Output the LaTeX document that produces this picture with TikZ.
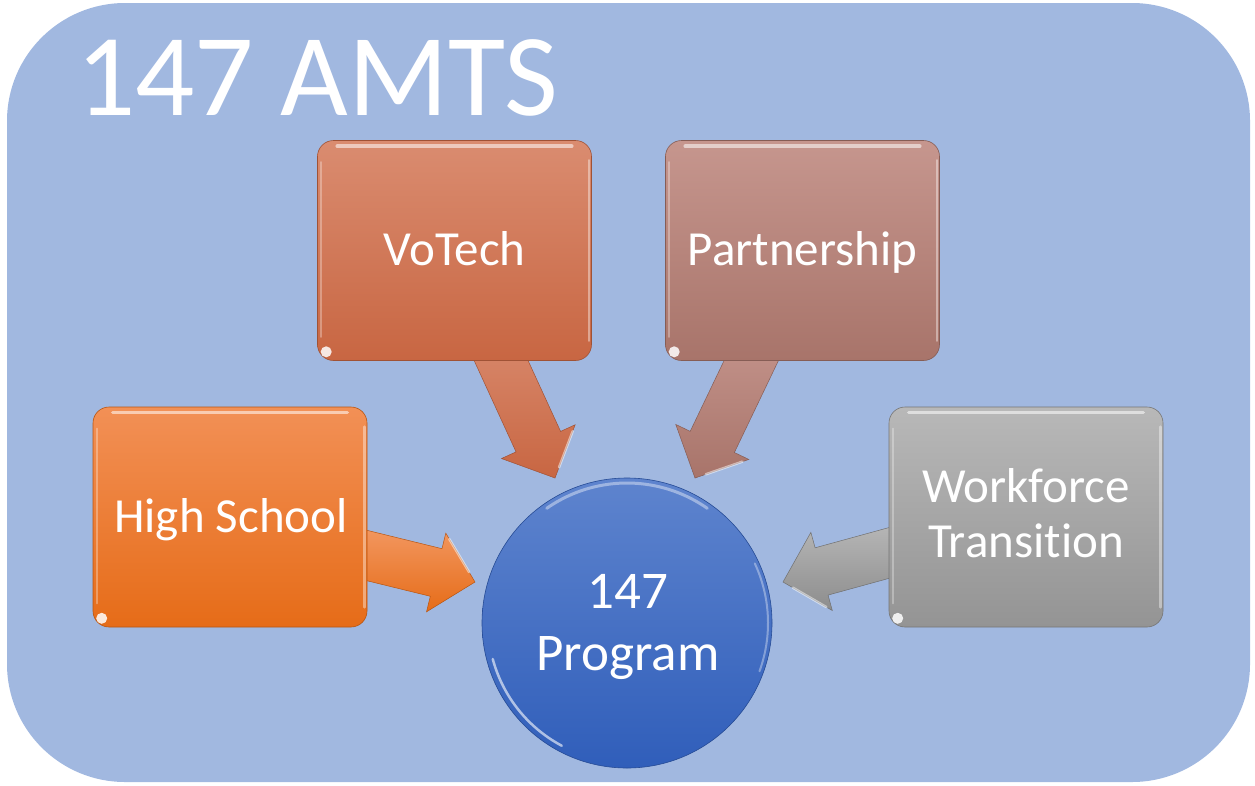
\documentclass[tikz,border=0pt]{standalone}
\usepackage{fontspec}
\setmainfont{Carlito}[Ligatures=NoCommon]
\usetikzlibrary{calc}
\definecolor{bgblue}{RGB}{161,184,224}
\definecolor{hsTop}{RGB}{242,144,86}
\definecolor{hsBot}{RGB}{230,108,24}
\definecolor{vtTop}{RGB}{218,140,112}
\definecolor{vtBot}{RGB}{200,102,66}
\definecolor{ptTop}{RGB}{198,150,142}
\definecolor{ptBot}{RGB}{168,116,106}
\definecolor{wfTop}{RGB}{184,184,184}
\definecolor{wfBot}{RGB}{148,148,148}
\definecolor{prTop}{RGB}{94,132,206}
\definecolor{prBot}{RGB}{48,94,186}
\newcommand{\blockarrow}[4]{%
  \path ($(#2)!40pt!(#1)$) coordinate (H)
        ($(#1)!24.5pt!90:(#2)$) coordinate (s1)
        ($(#1)!24.5pt!-90:(#2)$) coordinate (s2)
        ($(H)!24.5pt!90:(#2)$) coordinate (h1)
        ($(H)!24.5pt!-90:(#2)$) coordinate (h2)
        ($(H)!40.5pt!90:(#2)$) coordinate (b1)
        ($(H)!40.5pt!-90:(#2)$) coordinate (b2);
  \shade[top color=#3, bottom color=#4, draw=#4!80!black, line width=0.5pt]
    (s1) -- (h1) -- (b1) -- (#2) -- (b2) -- (h2) -- (s2) -- cycle;
  \draw[white, opacity=.5, line width=2.5pt, line cap=round]
    ($(b1)!0.12!(#2)$) -- ($(b1)!0.8!(#2)$);
}
\newcommand{\bevel}[1]{%
  \draw[white, opacity=.55, line width=3.5pt, line cap=round]
    ($(#1.north west)+(20,6)$) -- ($(#1.north east)+(-20,6)$);
  \draw[white, opacity=.4, line width=2.5pt, line cap=round]
    ($(#1.north east)+(-3,20)$) -- ($(#1.south east)+(-3,-20)$);
  \draw[white, opacity=.3, line width=2pt, line cap=round]
    ($(#1.north west)+(4,22)$) -- ($(#1.south west)+(4,-24)$);
  \fill[white, opacity=.85] ($(#1.south west)+(9,-9)$) circle [radius=5.5pt];
}
\tikzset{
  x=1pt, y=-1pt,
  box/.style={rounded corners=16pt, minimum width=274pt, minimum height=220pt,
    inner sep=0pt, line width=0.6pt, shade},
  lbl/.style={text=white, font=\fontsize{49}{55}\selectfont, inner sep=0pt, anchor=base},
  biglbl/.style={text=white, font=\fontsize{53}{62}\selectfont, inner sep=0pt, anchor=base}
}
\begin{document}
\begin{tikzpicture}
\useasboundingbox (0,0) rectangle (1255,785);
% background panel
\fill[bgblue, rounded corners=118pt] (7,3) rectangle (1250,782);
\node[text=white, font=\fontsize{117}{120}\selectfont, inner sep=0pt, anchor=base west]
  (title) at (76,115) {147 AMTS};

% arrow anchors
\coordinate (hsS) at (320,544);  \coordinate (hsT) at (475,582);
\coordinate (vtS) at (488,332);  \coordinate (vtT) at (555,478);
\coordinate (ptS) at (764,334);  \coordinate (ptT) at (695,478);
\coordinate (wfS) at (918,545);  \coordinate (wfT) at (783,582);

\blockarrow{hsS}{hsT}{hsTop!90!white}{hsBot}
\blockarrow{vtS}{vtT}{vtTop}{vtBot}
\blockarrow{ptS}{ptT}{ptTop}{ptBot}
\blockarrow{wfS}{wfT}{wfTop}{wfBot!95!black}

% boxes
\node[box, top color=vtTop, bottom color=vtBot, draw=vtBot!80!black] (votech) at (454.5,250.5) {};
\node[box, top color=ptTop, bottom color=ptBot, draw=ptBot!80!black] (partner) at (802.5,250.5) {};
\node[box, top color=hsTop, bottom color=hsBot, draw=hsBot!80!black] (hs) at (230,517) {};
\node[box, top color=wfTop, bottom color=wfBot, draw=wfBot!80!black] (wf) at (1026,517) {};
\bevel{votech}\bevel{partner}\bevel{hs}\bevel{wf}

\node[lbl] (votechL) at (454.5,265.5) {VoTech};
\node[lbl] (partnerL) at (802.5,265.5) {Partnership};
\node[lbl] (hsL) at (231,532) {High School};
\node[lbl] (wfL1) at (1026,502) {Workforce};
\node[lbl] (wfL2) at (1026,557) {Transition};

% central circle
\node[circle, minimum size=290pt, inner sep=0pt, shade, top color=prTop, bottom color=prBot,
  draw=prBot!80!black, line width=0.6pt] (prog) at (627,623) {};
\begin{scope}[shift={(prog.center)}]
  \draw[white, opacity=.6, line width=2.5pt, line cap=round]
    plot[domain=118:165, samples=40] (\x:139);
  \draw[white, opacity=.4, line width=3pt, line cap=round]
    plot[domain=235:305, samples=40] (\x:140);
  \draw[white, opacity=.35, line width=2pt, line cap=round]
    plot[domain=-25:20, samples=30] (\x:141);
\end{scope}
\node[biglbl] (progL1) at (628,608) {147};
\node[biglbl] (progL2) at (628,670) {Program};
\end{tikzpicture}
\end{document}
